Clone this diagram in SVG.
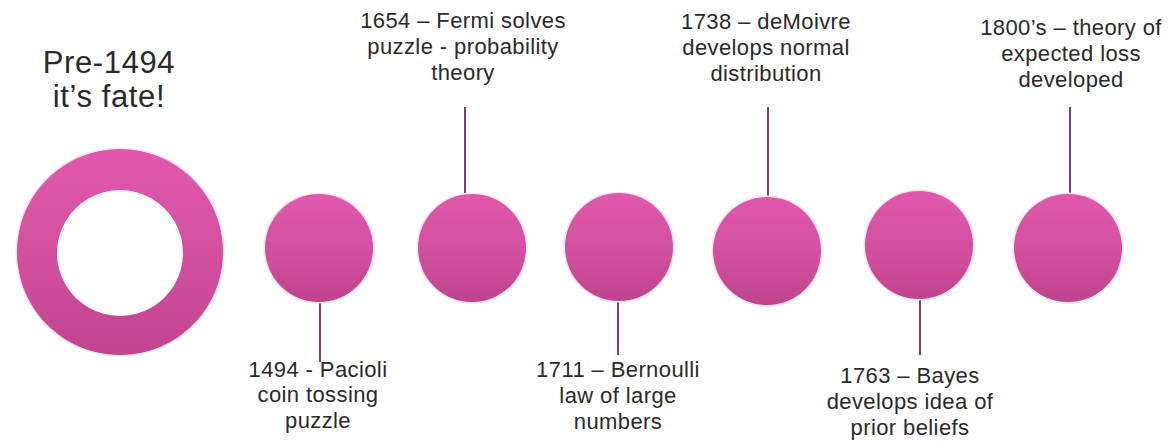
<svg xmlns="http://www.w3.org/2000/svg" width="1171" height="441" viewBox="0 0 1171 441">
<style>
text{font-family:"Liberation Sans",Arial,sans-serif;fill:#2a2a2a;text-anchor:middle}
.lbl{font-size:22px;letter-spacing:0.4px}
.big{font-size:31px;letter-spacing:0.6px}
.ball{fill:url(#g)}
.halo{fill:none;stroke:#f8e2ee;stroke-width:3}
.conn line{stroke:#7d3f66;stroke-width:2}
</style>
<defs>
<linearGradient id="g" x1="0" y1="0" x2="0" y2="1">
<stop offset="0" stop-color="#e058ac"/>
<stop offset="0.55" stop-color="#d24f9f"/>
<stop offset="1" stop-color="#c0438c"/>
</linearGradient>
</defs>
<rect width="1171" height="441" fill="#fff"/>
<g class="conn">
<line x1="320" y1="302" x2="320" y2="362"/>
<line x1="465" y1="107" x2="465" y2="194"/>
<line x1="618" y1="300" x2="618" y2="355"/>
<line x1="768" y1="107" x2="768" y2="198"/>
<line x1="920" y1="298" x2="920" y2="355"/>
<line x1="1070" y1="107" x2="1070" y2="194"/>
</g>
<g id="pre1494">
<circle cx="120" cy="252" r="103" class="halo"/>
<path d="M120,149a103,103 0 1,0 0.01,0ZM120,190a63,63 0 1,1 -0.01,0Z" fill="url(#g)" fill-rule="evenodd"/>
<text class="big" x="109" y="73">Pre-1494</text>
<text class="big" x="109" y="107">it’s fate!</text>
</g>
<g id="n1494">
<circle cx="319" cy="248" r="54" class="halo"/>
<circle cx="319" cy="248" r="54" class="ball"/>
<text class="lbl" x="318" y="377">1494 - Pacioli</text>
<text class="lbl" x="318" y="402">coin tossing</text>
<text class="lbl" x="318" y="428">puzzle</text>
</g>
<g id="n1654">
<circle cx="472" cy="248" r="54" class="halo"/>
<circle cx="472" cy="248" r="54" class="ball"/>
<text class="lbl" x="463" y="28">1654 – Fermi solves</text>
<text class="lbl" x="463" y="54">puzzle - probability</text>
<text class="lbl" x="463" y="80">theory</text>
</g>
<g id="n1711">
<circle cx="619" cy="247" r="54" class="halo"/>
<circle cx="619" cy="247" r="54" class="ball"/>
<text class="lbl" x="618" y="377">1711 – Bernoulli</text>
<text class="lbl" x="618" y="403">law of large</text>
<text class="lbl" x="618" y="429">numbers</text>
</g>
<g id="n1738">
<circle cx="767" cy="251" r="54" class="halo"/>
<circle cx="767" cy="251" r="54" class="ball"/>
<text class="lbl" x="766" y="29">1738 – deMoivre</text>
<text class="lbl" x="766" y="55">develops normal</text>
<text class="lbl" x="766" y="81">distribution</text>
</g>
<g id="n1763">
<circle cx="919" cy="245" r="54" class="halo"/>
<circle cx="919" cy="245" r="54" class="ball"/>
<text class="lbl" x="910" y="383">1763 – Bayes</text>
<text class="lbl" x="910" y="409">develops idea of</text>
<text class="lbl" x="910" y="435">prior beliefs</text>
</g>
<g id="n1800">
<circle cx="1068" cy="248" r="54" class="halo"/>
<circle cx="1068" cy="248" r="54" class="ball"/>
<text class="lbl" x="1071" y="35">1800’s – theory of</text>
<text class="lbl" x="1071" y="61">expected loss</text>
<text class="lbl" x="1071" y="87">developed</text>
</g>
</svg>
